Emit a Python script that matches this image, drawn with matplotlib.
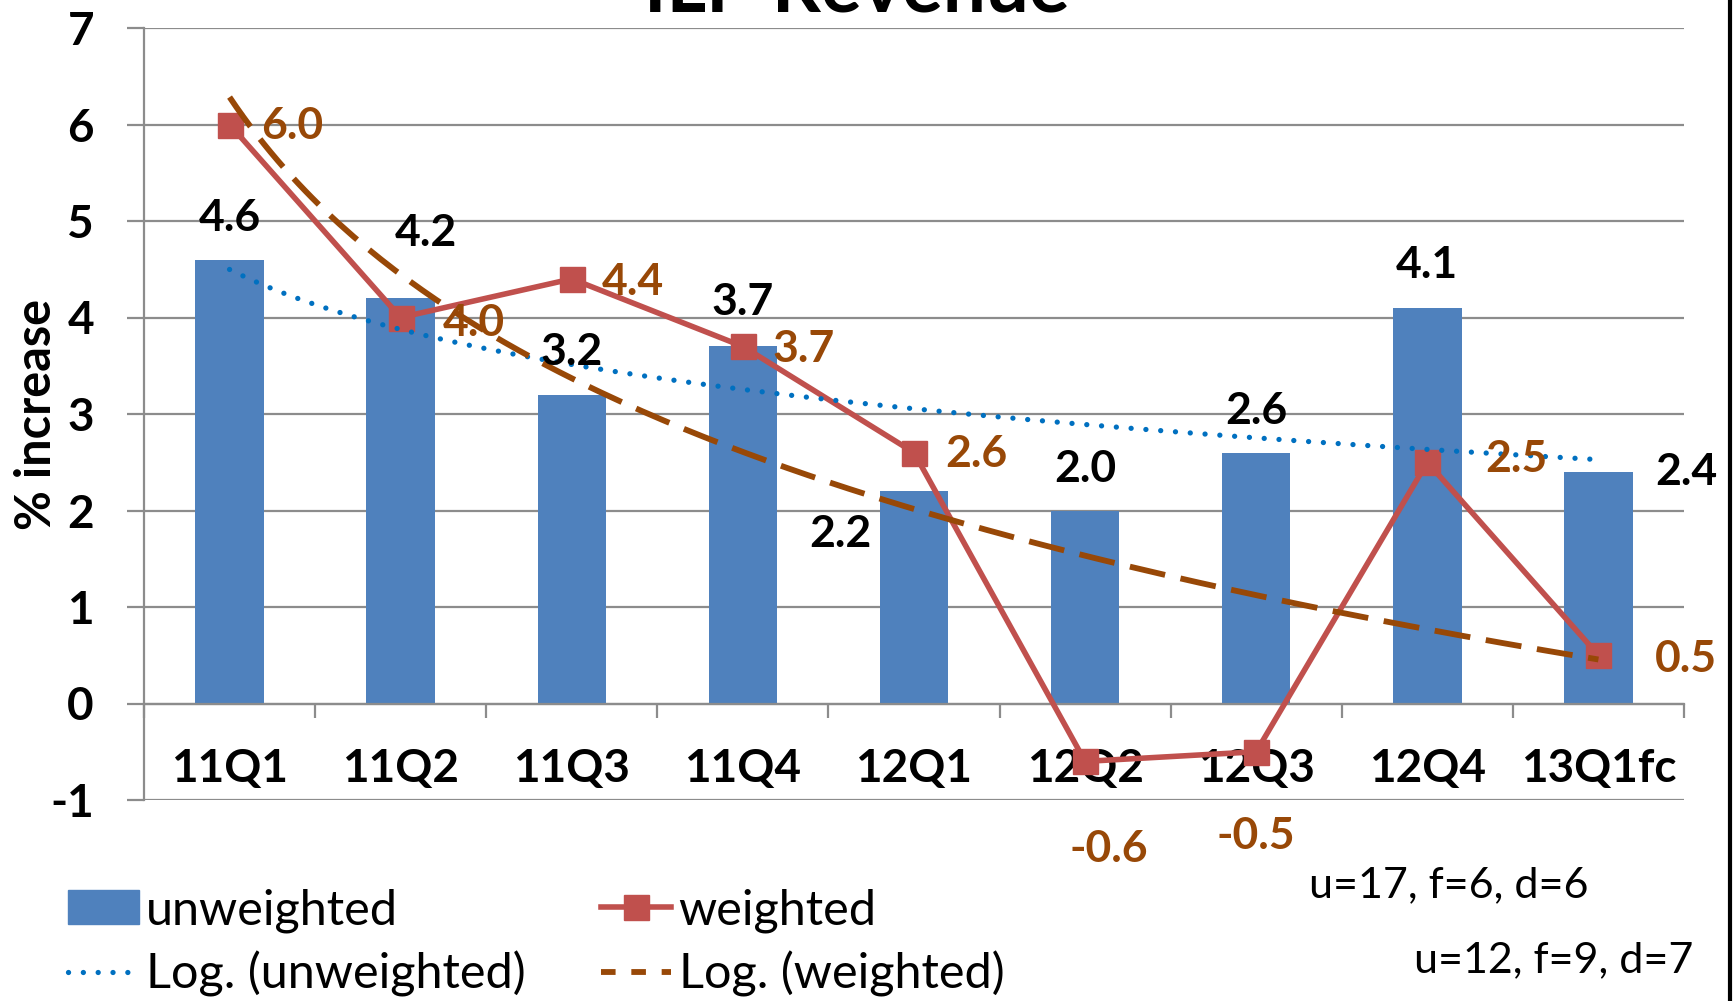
import numpy as np
import matplotlib
matplotlib.use("Agg")
import matplotlib.pyplot as plt
from matplotlib.lines import Line2D
from matplotlib.patches import Patch

categories = ["11Q1", "11Q2", "11Q3", "11Q4", "12Q1", "12Q2", "12Q3", "12Q4", "13Q1fc"]
unweighted = [4.6, 4.2, 3.2, 3.7, 2.2, 2.0, 2.6, 4.1, 2.4]
weighted = [6.0, 4.0, 4.4, 3.7, 2.6, -0.6, -0.5, 2.5, 0.5]
notes = ["u=17, f=6, d=6", "u=12, f=9, d=7"]

# label offsets (points) tuned by eye
unw_off = [(0, 30), (18, 47), (0, 31), (0, 32), (-53, -31), (0, 30), (0, 30), (0, 31), (63, 0)]
w_off = [(45, -1), (53, -4), (44, -2), (44, -2), (45, -1), (17, -63), (0, -61), (64, 2), (63, -3)]

BLUE = "#4F81BD"
RED = "#C0504D"
BROWN = "#984807"
DOT = "#0070C0"
GRID = "#8C8C8C"
FONT = ["Lato", "DejaVu Sans"]
plt.rcParams["font.family"] = FONT
plt.rcParams["axes.unicode_minus"] = False
W = "bold"

fig = plt.figure(figsize=(17.34, 10.01), dpi=100)
ax = fig.add_axes([144 / 1734, 1 - 800 / 1001, (1684 - 144) / 1734, (800 - 28) / 1001])

x = np.arange(len(categories))
ax.bar(x, unweighted, width=0.4, color=BLUE, zorder=2)
ax.plot(x, weighted, color=RED, lw=4, marker="s", ms=18, zorder=4)

# excel style logarithmic trendlines
xs = np.linspace(1, len(categories), 200)
a1, b1 = np.polyfit(np.log(x + 1), unweighted, 1)
a2, b2 = np.polyfit(np.log(x + 1), weighted, 1)
dotted = (0, (0.01, 2.8))
dashed = (0, (6.2, 2.7))
ax.plot(xs - 1, a1 * np.log(xs) + b1, color=DOT, lw=3.8, ls=dotted,
        dash_capstyle="round", zorder=5)
ax.plot(xs - 1, a2 * np.log(xs) + b2, color=BROWN, lw=4.2, ls=dashed, zorder=5)

for i, v in enumerate(unweighted):
    ax.annotate(f"{v:.1f}", (i, v), xytext=unw_off[i], textcoords="offset points",
                ha="center", va="center", fontsize=32, fontweight=W, color="black", zorder=6)
for i, v in enumerate(weighted):
    ax.annotate(f"{v:.1f}", (i, v), xytext=w_off[i], textcoords="offset points",
                ha="center", va="center", fontsize=32, fontweight=W, color=BROWN, zorder=6,
                annotation_clip=False)

ax.set_xlim(-0.5, len(categories) - 0.5)
ax.set_ylim(-1, 7)
ax.set_yticks(range(-1, 8))
ax.yaxis.grid(True, color=GRID, lw=1.6, zorder=0)
ax.tick_params(axis="y", length=12, width=1.6, color=GRID, pad=24, labelsize=33)
for lab in ax.get_yticklabels():
    lab.set_fontweight(W)

for s in ["top", "right"]:
    ax.spines[s].set_visible(False)
ax.spines["left"].set_color(GRID)
ax.spines["left"].set_linewidth(1.6)
ax.spines["bottom"].set_position(("data", 0))
ax.spines["bottom"].set_color(GRID)
ax.spines["bottom"].set_linewidth(1.6)
ax.set_xticks(x)
ax.set_xticklabels(categories, fontsize=33, fontweight=W)
ax.set_xticks(np.arange(len(categories) + 1) - 0.5, minor=True)
ax.tick_params(axis="x", which="major", length=0, pad=32)
ax.tick_params(axis="x", which="minor", length=10, width=1.6, color=GRID)

ax.set_ylabel("% increase", fontsize=35, fontweight=W)
ax.yaxis.set_label_coords(-0.0555, 0.5)

fig.text(0.494, 0.989, "ILP Revenue", ha="center", va="baseline", fontsize=55, fontweight=W)

handles = [Patch(color=BLUE),
           Line2D([], [], color=DOT, lw=3.8, ls=dotted, dash_capstyle="round"),
           Line2D([], [], color=RED, lw=4, marker="s", ms=18),
           Line2D([], [], color=BROWN, lw=4.2, ls=(0, (2.5, 2.7)))]
labels = ["unweighted", "Log. (unweighted)", "weighted", "Log. (weighted)"]
fig.legend(handles, labels, ncol=2, frameon=False, loc="lower left",
           bbox_to_anchor=(0.014, -0.04), fontsize=35, handlelength=1.45,
           handletextpad=0.15, columnspacing=1.55, labelspacing=0.38)

fig.text(1449 / 1734, 1 - 885 / 1001, notes[0], ha="center", va="center", fontsize=31)
fig.text(1554 / 1734, 1 - 960 / 1001, notes[1], ha="center", va="center", fontsize=31)

fig.add_artist(Line2D([1730 / 1734, 1730 / 1734], [0, 1], color="black", lw=3))

fig.savefig("out.png", dpi=100)
